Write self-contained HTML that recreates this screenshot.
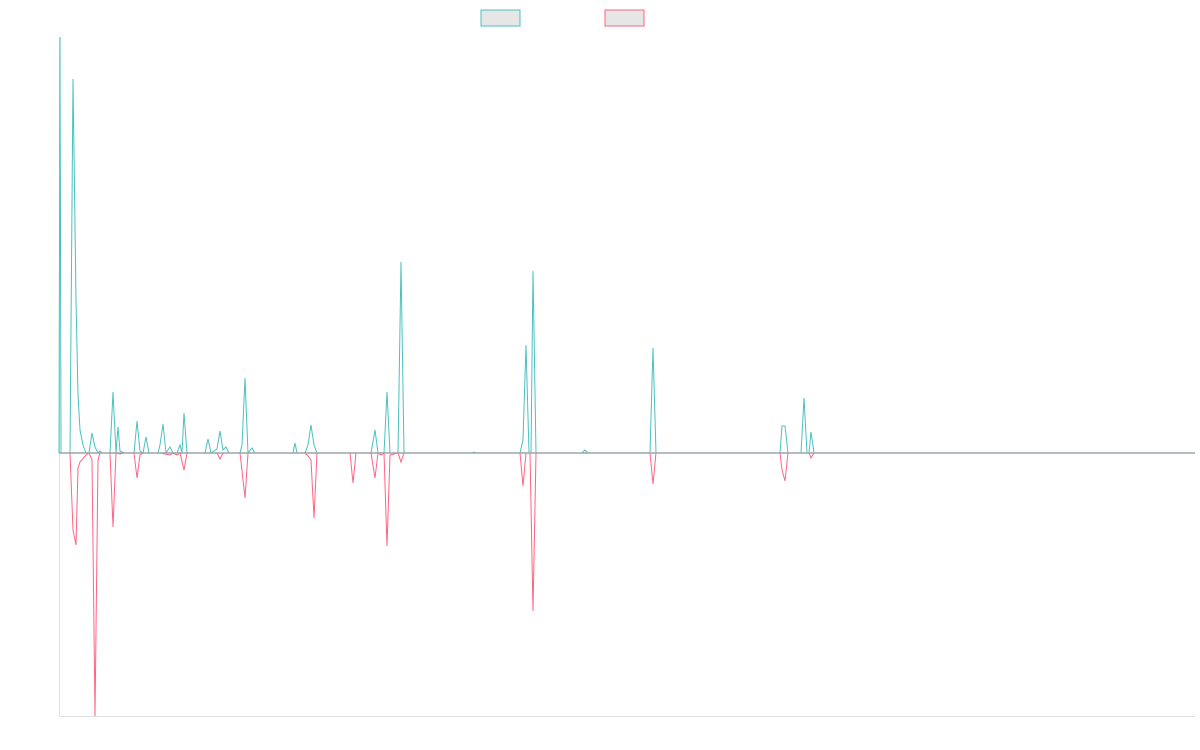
<!DOCTYPE html>
<html><head><meta charset="utf-8"><style>html,body{margin:0;padding:0;background:#fff;}svg{display:block}</style></head>
<body>
<svg width="1200" height="750" viewBox="0 0 1200 750" xmlns="http://www.w3.org/2000/svg">
<rect x="481" y="10" width="39" height="16" fill="#e6e6e6" stroke="#4bc0c0" stroke-width="1"/>
<rect x="605" y="10" width="39" height="16" fill="#e6e6e6" stroke="#ff6384" stroke-width="1"/>
<line x1="59.5" y1="37" x2="59.5" y2="716" stroke="#e0e0e0"/>
<line x1="59" y1="716.5" x2="1195" y2="716.5" stroke="#e0e0e0"/>
<polyline fill="none" stroke="#ff6384" stroke-width="1" points="59,453 70,453 73,530 76,545 78,468 80,462 86,455 89,453 92,460 95,716 98,460 100,453 110,453 113,527 116,453 120,454 124,453 134,453 137,478 140,455 143,453 160,453 170,455 173,453 177,455 180,453 184,470 187,453 205,453 217,453 220,459 223,453 240,453 245,498 248,453 305,453 308,456 311,460 314,518 317,453 350,453 353,483 356,453 371,453 375,478 378,453 381,455 384,453 387,546 390,455 398,453 401,462 404,453 520,453 523,486 526,453 530,453 533,611 536,453 650,453 653,484 656,453 780,453 782,470 785,481 788,453 809,453 811,458 814,453 1195,453"/>
<polyline fill="none" stroke="#4bc0c0" stroke-width="1" points="59,453 60,37 61,453 70,453 73,79 76,300 78,395 80,430 83,445 86,453 89,453 92,433 95,447 98,453 100,451 102,453 110,453 113,392 116,453 118,427 120,451 124,453 134,453 137,421 140,451 143,453 146,437 149,453 158,453 160,445 163,424 166,453 170,447 173,453 177,453 180,445 182,453 184,413 187,453 205,453 208,439 211,453 217,449 220,431 223,450 226,447 229,453 240,453 242,445 245,378 248,453 252,448 255,453 293,453 295,443 297,453 305,453 308,445 311,425 314,445 317,453 371,453 375,430 378,453 384,453 387,392 390,453 398,453 401,262 404,453 472,453 474,452 476,453 520,453 523,440 526,345 529,453 531,453 533,271 536,453 582,453 585,450 588,453 650,453 653,348 656,453 780,453 782,426 785,426 788,453 801,453 804,398 807,453 809,453 811,432 814,453 1195,453"/>
<line x1="59" y1="453" x2="1195" y2="453" stroke="#9aa5aa" stroke-width="1.5"/>
</svg>
</body></html>
